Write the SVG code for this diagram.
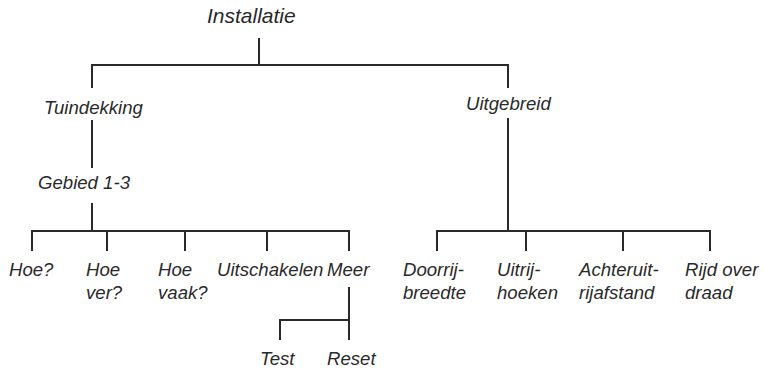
<svg xmlns="http://www.w3.org/2000/svg" width="764" height="376" viewBox="0 0 764 376">
<style>
text{font-family:"Liberation Sans",Arial,sans-serif;font-style:italic;font-size:18.6px;fill:#2a2a2a}
.c{fill:none;stroke:#2a2a2a;stroke-width:2}
</style>
<rect width="764" height="376" fill="#fff"/>
<g id="connectors">
<path class="c" d="M259,38V65M92,88V65H508V88"/>
<path class="c" d="M92,120V168"/>
<path class="c" d="M92,203V231M32,251V231H349V251M107,231V251M185,231V251M267,231V251"/>
<path class="c" d="M508,118V231M437,251V231H710V251M526,231V251M623,231V251"/>
<path class="c" d="M349,287V340M280,340V320H349"/>
</g>
<g id="installatie"><text x="207" y="23" style="font-size:21px">Installatie</text></g>
<g id="tuindekking"><text x="44" y="114">Tuindekking</text></g>
<g id="uitgebreid"><text x="466" y="110">Uitgebreid</text></g>
<g id="gebied"><text x="38" y="189">Gebied 1-3</text></g>
<g id="hoe"><text x="9" y="276">Hoe?</text></g>
<g id="hoever"><text x="86" y="276">Hoe</text><text x="86" y="299">ver?</text></g>
<g id="hoevaak"><text x="158" y="276">Hoe</text><text x="158" y="299">vaak?</text></g>
<g id="uitschakelen"><text x="217" y="276">Uitschakelen</text></g>
<g id="meer"><text x="327" y="276">Meer</text></g>
<g id="test"><text x="260" y="365">Test</text></g>
<g id="reset"><text x="327" y="365">Reset</text></g>
<g id="doorrijbreedte"><text x="403" y="276">Doorrij-</text><text x="403" y="299">breedte</text></g>
<g id="uitrijhoeken"><text x="497" y="276">Uitrij-</text><text x="497" y="299">hoeken</text></g>
<g id="achteruitrijafstand"><text x="579" y="276">Achteruit-</text><text x="579" y="299">rijafstand</text></g>
<g id="rijdoverdraad"><text x="685" y="276">Rijd over</text><text x="685" y="299">draad</text></g>
</svg>
